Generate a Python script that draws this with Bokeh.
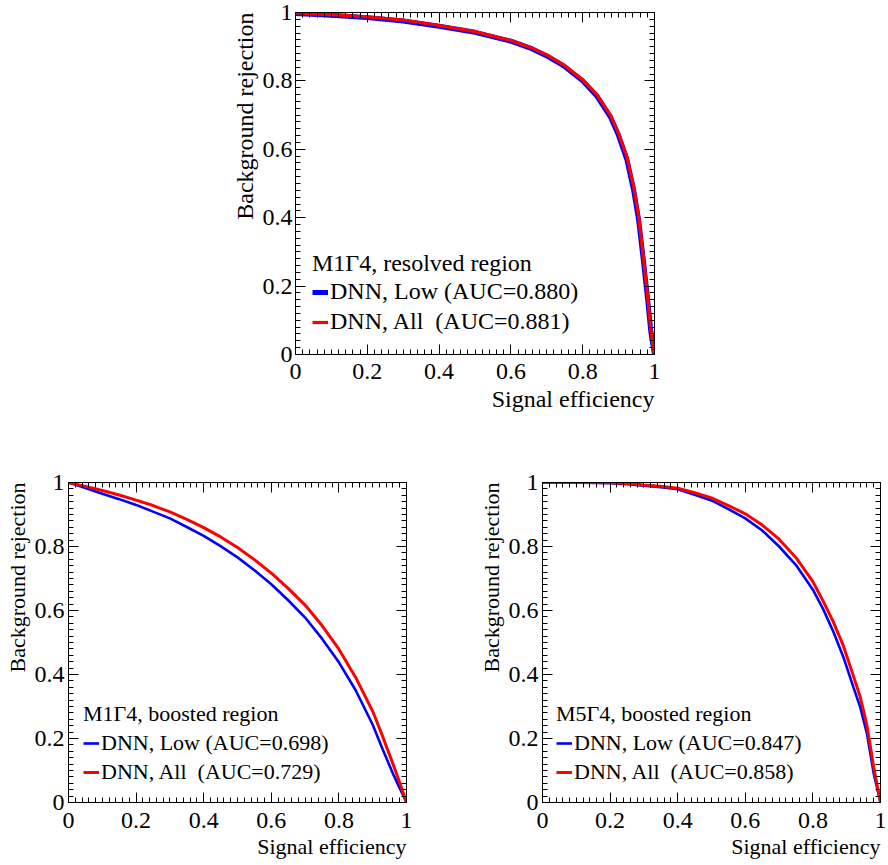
from bokeh.plotting import figure
from bokeh.models import Range1d, FixedTicker, LinearAxis, Title, Legend, LegendItem, Spacer
from bokeh.layouts import column, row
from bokeh.embed import file_html
from bokeh.resources import INLINE

FONT = "'Liberation Serif', 'Times New Roman', Times, serif"

# ---------------- data ----------------
tick_values = [0, 0.2, 0.4, 0.6, 0.8, 1]
tick_labels = ["0", "0.2", "0.4", "0.6", "0.8", "1"]

# M1Γ4 resolved region
res_eff = [0, 0.1, 0.2, 0.3, 0.4, 0.5, 0.6, 0.654, 0.7, 0.747, 0.8, 0.84, 0.877,
           0.9, 0.923, 0.942, 0.956, 0.969, 0.98, 0.99, 1.0]
res_low = [0.997, 0.992, 0.985, 0.975, 0.960, 0.942, 0.916, 0.896, 0.873, 0.844, 0.800,
           0.755, 0.695, 0.640, 0.570, 0.480, 0.392, 0.275, 0.170, 0.065, 0.0]
res_all = [0.999, 0.994, 0.987, 0.978, 0.962, 0.944, 0.918, 0.898, 0.876, 0.847, 0.803,
           0.759, 0.700, 0.646, 0.578, 0.490, 0.402, 0.285, 0.178, 0.070, 0.0]

# M1Γ4 boosted region
b1_eff = [0, 0.05, 0.1, 0.15, 0.2, 0.25, 0.3, 0.35, 0.4, 0.45, 0.5, 0.55, 0.6, 0.65,
          0.7, 0.75, 0.8, 0.85, 0.9, 0.93, 0.96, 0.98, 1.0]
b1_low = [1.0, 0.983, 0.965, 0.948, 0.930, 0.909, 0.888, 0.861, 0.833, 0.801, 0.766, 0.726,
          0.682, 0.632, 0.578, 0.512, 0.438, 0.350, 0.243, 0.165, 0.090, 0.045, 0.0]
b1_all = [1.0, 0.988, 0.975, 0.961, 0.945, 0.928, 0.908, 0.885, 0.859, 0.830, 0.797, 0.759,
          0.717, 0.669, 0.617, 0.553, 0.479, 0.390, 0.285, 0.205, 0.120, 0.062, 0.0]

# M5Γ4 boosted region
b5_eff = [0, 0.1, 0.2, 0.25, 0.3, 0.35, 0.4, 0.45, 0.5, 0.55, 0.6, 0.65, 0.7, 0.75,
          0.8, 0.83, 0.86, 0.89, 0.92, 0.94, 0.96, 0.98, 1.0]
b5_low = [1.0, 1.0, 0.998, 0.995, 0.990, 0.985, 0.979, 0.962, 0.944, 0.917, 0.888, 0.850,
          0.800, 0.742, 0.665, 0.605, 0.535, 0.455, 0.360, 0.298, 0.215, 0.090, 0.0]
b5_all = [1.0, 1.0, 0.999, 0.997, 0.992, 0.988, 0.982, 0.968, 0.952, 0.928, 0.902, 0.867,
          0.823, 0.765, 0.690, 0.630, 0.565, 0.490, 0.395, 0.330, 0.240, 0.110, 0.0]

minor_ticks = [round(i * 0.02, 2) for i in range(51)]


def style_axis(ax, show_labels, fs, standoff):
    ax.ticker = FixedTicker(ticks=tick_values, minor_ticks=minor_ticks)
    ax.major_tick_in = 10
    ax.major_tick_out = 0
    ax.minor_tick_in = 5
    ax.minor_tick_out = 0
    ax.axis_line_color = "black"
    ax.major_tick_line_color = "black"
    ax.minor_tick_line_color = "black"
    ax.axis_line_width = 1
    if show_labels:
        ax.major_label_overrides = {v: l for v, l in zip(tick_values, tick_labels)}
        ax.major_label_text_font = FONT
        ax.major_label_text_font_size = fs
        ax.major_label_text_color = "black"
        ax.major_label_standoff = standoff
    else:
        ax.major_label_overrides = {v: "" for v in tick_values}
        ax.major_label_text_font_size = "0px"
        ax.major_label_standoff = 0


def panel(eff, low, alll, header, lab_low, lab_all, fw, fh, bl, br, bt, bb,
          lw_low, lw_all, leg_loc, tick_fs, title_fs, leg_fs, row_h, title_standoff,
          xstand, ystand, xt_stand, yt_stand):
    p = figure(frame_width=fw, frame_height=fh, x_range=Range1d(0, 1), y_range=Range1d(0, 1),
               output_backend="svg", toolbar_location=None, title=None,
               min_border_left=bl, min_border_right=br, min_border_top=bt, min_border_bottom=bb)
    p.grid.visible = False
    p.outline_line_color = "black"
    p.outline_line_width = 1
    p.background_fill_color = "white"
    p.border_fill_color = "white"

    style_axis(p.xaxis[0], True, tick_fs, xstand)
    style_axis(p.yaxis[0], True, tick_fs, ystand)
    top = LinearAxis()
    right = LinearAxis()
    style_axis(top, False, tick_fs, 0)
    style_axis(right, False, tick_fs, 0)
    p.add_layout(top, "above")
    p.add_layout(right, "right")

    p.add_layout(Title(text="Signal efficiency", align="right", text_font=FONT,
                       text_font_size=title_fs, text_font_style="normal",
                       text_color="black", standoff=xt_stand), "below")
    p.add_layout(Title(text="Background rejection", align="right", text_font=FONT,
                       text_font_size=title_fs, text_font_style="normal",
                       text_color="black", standoff=yt_stand), "left")

    r_low = p.line(eff, low, line_color="#0000ff", line_width=lw_low)
    r_all = p.line(eff, alll, line_color="#ff0000", line_width=lw_all)

    leg = Legend(items=[LegendItem(label=lab_low, renderers=[r_low]),
                        LegendItem(label=lab_all, renderers=[r_all])],
                 location=leg_loc, title=header,
                 title_text_font=FONT, title_text_font_size=leg_fs,
                 title_text_font_style="normal", title_text_color="black",
                 title_standoff=title_standoff,
                 label_text_font=FONT, label_text_font_size=leg_fs, label_text_color="black",
                 glyph_width=16, glyph_height=row_h, label_height=row_h, label_standoff=2,
                 spacing=3, padding=0, margin=0,
                 border_line_color=None, background_fill_alpha=0)
    p.add_layout(leg)
    return p


p_top = panel(res_eff, res_low, res_all, "M1\u03934, resolved region",
              "DNN, Low (AUC=0.880)", "DNN, All  (AUC=0.881)",
              fw=359, fh=342, bl=95, br=30, bt=12, bb=66,
              lw_low=5, lw_all=3.2, leg_loc=(17, 19), tick_fs="24px", title_fs="24px",
              leg_fs="24px", row_h=26, title_standoff=1,
              xstand=9, ystand=3, xt_stand=5, yt_stand=4)

p_bl = panel(b1_eff, b1_low, b1_all, "M1\u03934, boosted region",
             "DNN, Low (AUC=0.698)", "DNN, All  (AUC=0.729)",
             fw=338, fh=320, bl=68, br=68, bt=62, bb=63,
             lw_low=2.6, lw_all=3, leg_loc=(15, 17), tick_fs="24px", title_fs="22px",
             leg_fs="22px", row_h=24, title_standoff=3,
             xstand=10, ystand=4, xt_stand=3, yt_stand=4)

p_br = panel(b5_eff, b5_low, b5_all, "M5\u03934, boosted region",
             "DNN, Low (AUC=0.847)", "DNN, All  (AUC=0.858)",
             fw=338, fh=320, bl=68, br=8, bt=62, bb=63,
             lw_low=2.6, lw_all=3, leg_loc=(14, 17), tick_fs="24px", title_fs="22px",
             leg_fs="22px", row_h=24, title_standoff=3,
             xstand=10, ystand=4, xt_stand=3, yt_stand=4)

layout = column(row(Spacer(width=200, height=420), p_top), row(p_bl, p_br))

open("out.html", "w").write(file_html(layout, INLINE))
